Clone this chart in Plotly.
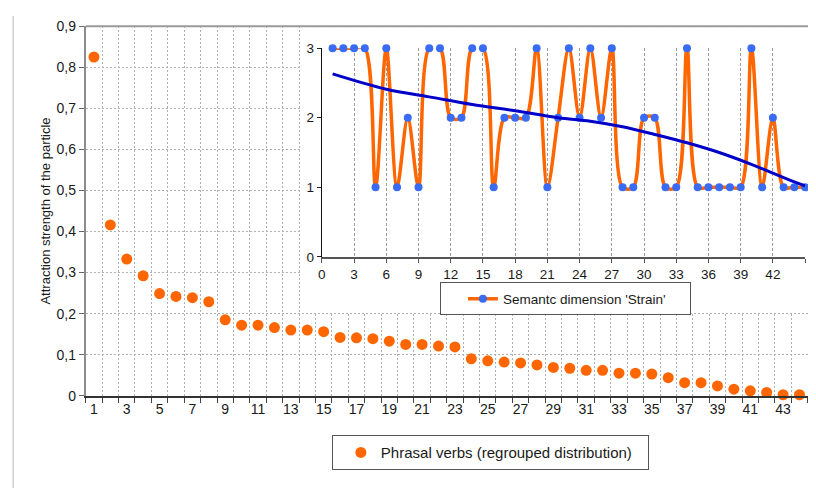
import plotly.graph_objects as go

# ---------------- data ----------------
categories = list(range(1, 46))
attraction = [0.825, 0.416, 0.333, 0.292, 0.249, 0.242, 0.239, 0.229, 0.185, 0.172,
              0.172, 0.166, 0.160, 0.160, 0.156, 0.142, 0.141, 0.139, 0.133, 0.125,
              0.125, 0.121, 0.119, 0.090, 0.085, 0.082, 0.080, 0.075, 0.069, 0.067,
              0.062, 0.062, 0.055, 0.055, 0.053, 0.044, 0.032, 0.032, 0.024, 0.016,
              0.012, 0.008, 0.0025, 0.0025, 0.0]
main_tickvals = list(range(1, 46, 2))
main_boundaries = [k + 0.5 for k in range(0, 45)]
y_tickvals = [i / 10 for i in range(10)]
y_ticktext = ["0", "0,1", "0,2", "0,3", "0,4", "0,5", "0,6", "0,7", "0,8", "0,9"]

strain_x = list(range(1, 46))
strain = [3, 3, 3, 3, 1, 3, 1, 2, 1, 3,
          3, 2, 2, 3, 3, 1, 2, 2, 2, 3,
          1, 2, 3, 2, 3, 2, 3, 1, 1, 2,
          2, 1, 1, 3, 1, 1, 1, 1, 1, 3,
          1, 2, 1, 1, 1]
trend_x = [1, 6, 10, 14, 18, 22, 25, 28, 31, 34, 37, 40, 43, 45]
trend_y = [2.63, 2.41, 2.30, 2.19, 2.10, 2.00, 1.95, 1.87, 1.76, 1.64, 1.50, 1.33, 1.14, 1.02]
inset_xticks = list(range(0, 46, 3))
inset_yticks = [0, 1, 2, 3]

# Figure size and the measured mapping from figure pixels to the photographed page.
W, H = 800, 488
AX, SX = 12.3, 0.9945
AY, SY = 14.8, 0.9683
FONT = "Liberation Sans, Arial, sans-serif"
ORANGE = "#FF6600"
BLUE = "#3A6BF5"
NAVY = "#0000C8"


def px_x(o):
    """photographed pixel x -> paper fraction"""
    return ((o - AX) / SX) / W


def px_y(o):
    """photographed pixel y -> paper fraction (from bottom)"""
    return 1 - ((o - AY) / SY) / H


fig = go.Figure()

fig.add_trace(go.Scatter(
    x=categories, y=attraction, mode="markers",
    marker=dict(color=ORANGE, size=11),
    name="Phrasal verbs (regrouped distribution)",
    cliponaxis=False, legend="legend",
    xaxis="x", yaxis="y"))

# empty trace that creates the white backing panel of the inset (subplot x2/y2)
fig.add_trace(go.Scatter(x=[], y=[], showlegend=False, hoverinfo="skip",
                         xaxis="x2", yaxis="y2"))

fig.add_trace(go.Scatter(
    x=strain_x, y=strain, mode="lines+markers",
    line=dict(color=ORANGE, width=3.5, shape="spline", smoothing=0.9),
    marker=dict(color=BLUE, size=8),
    name="Semantc dimension 'Strain'",
    cliponaxis=False, legend="legend2",
    xaxis="x3", yaxis="y3"))

fig.add_trace(go.Scatter(
    x=trend_x, y=trend_y, mode="lines",
    line=dict(color=NAVY, width=3, shape="spline"),
    showlegend=False, hoverinfo="skip",
    xaxis="x3", yaxis="y3"))

hidden = dict(showline=False, showticklabels=False, showgrid=False,
              zeroline=False, ticks="", fixedrange=True)

# main x scale: category boundary 0.5 at px 86, 16.4 px per category
right_edge = AX + SX * W
main_x_end = 0.5 + (right_edge - 86) / 16.4

fig.update_layout(
    width=W, height=H, autosize=False,
    margin=dict(l=0, r=0, t=0, b=0),
    paper_bgcolor="white", plot_bgcolor="white",
    font=dict(family=FONT, size=14, color="#1a1a1a"),
    xaxis=dict(
        domain=[px_x(86), 1.0], range=[0.5, main_x_end],
        tickvals=main_tickvals, ticktext=[str(v) for v in main_tickvals],
        showgrid=False, zeroline=False, ticks="",
        showline=True, linecolor="#333333", linewidth=1.5,
        tickfont=dict(size=14),
        minor=dict(tickvals=main_boundaries, showgrid=True, gridcolor="#b0b0b0",
                   griddash="2px,2px", gridwidth=1, ticks="outside", ticklen=5,
                   tickcolor="#444444"),
    ),
    yaxis=dict(
        domain=[px_y(395), px_y(25)], range=[0, 0.9],
        tickvals=y_tickvals, ticktext=y_ticktext,
        showgrid=True, gridcolor="#b0b0b0", griddash="2px,2px", gridwidth=1,
        zeroline=False, ticks="outside", ticklen=5, tickcolor="#666666",
        showline=True, linecolor="#8c8c8c", linewidth=2,
        tickfont=dict(size=14),
        title=dict(text="Attraction strength of the particle", font=dict(size=13), standoff=3),
    ),
    xaxis2=dict(domain=[px_x(301), 1.0], range=[0, 1], anchor="y2", **hidden),
    yaxis2=dict(domain=[px_y(311), px_y(26)], range=[0, 1], anchor="x2", **hidden),
    xaxis3=dict(
        domain=[px_x(322), px_x(805)], range=[0, 45], anchor="y3",
        tickvals=inset_xticks, ticktext=[str(v) for v in inset_xticks],
        showgrid=True, gridcolor="#9a9a9a", griddash="3px,2px", gridwidth=1,
        zeroline=False, ticks="outside", ticklen=4, tickcolor="#555555",
        showline=True, linecolor="#555555", linewidth=1.5,
        tickfont=dict(size=13.5),
    ),
    yaxis3=dict(
        domain=[px_y(256), px_y(47)], range=[0, 3], anchor="x3",
        tickvals=inset_yticks, ticktext=[str(v) for v in inset_yticks],
        showgrid=False, zeroline=False, ticks="outside", ticklen=4, tickcolor="#222222",
        showline=True, linecolor="#111111", linewidth=1.2,
        tickfont=dict(size=13.5),
    ),
    legend=dict(
        x=px_x(332), y=px_y(452), xanchor="left", yanchor="middle",
        orientation="h", entrywidth=262,
        bordercolor="#555555", borderwidth=1, bgcolor="white",
        font=dict(size=15), indentation=8,
    ),
    legend2=dict(
        x=px_x(440), y=px_y(298), xanchor="left", yanchor="middle",
        orientation="h", entrywidth=182,
        bordercolor="#555555", borderwidth=1, bgcolor="white",
        font=dict(size=13.5), indentation=22,
    ),
    showlegend=True,
    shapes=[
        # top border of main plot area
        dict(type="line", xref="paper", yref="paper", x0=px_x(86), x1=1.0,
             y0=px_y(25), y1=px_y(25),
             line=dict(color="#9a9a9a", width=2), layer="above"),
        # outer chart-area left border
        dict(type="line", xref="paper", yref="paper", x0=0.0015, x1=0.0015,
             y0=0, y1=1, line=dict(color="#d0d0d0", width=1.5)),
    ],
)

fig.write_html("out.html", config={"responsive": False, "displayModeBar": False})
